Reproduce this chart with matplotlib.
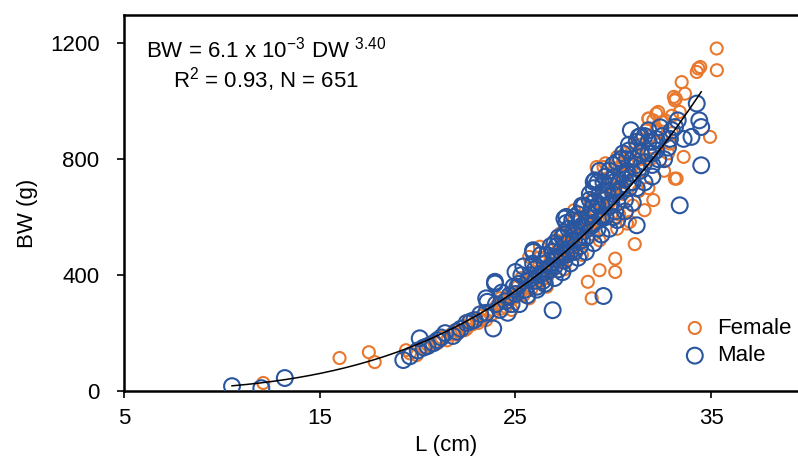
import numpy as np
import matplotlib
matplotlib.use("Agg")
import matplotlib.pyplot as plt

plt.rcParams['font.family'] = ['Liberation Sans', 'DejaVu Sans']
plt.rcParams['mathtext.default'] = 'regular'

# fitted length-weight relation shown on the chart: BW = a * L^b
fit_a = 6.1e-3
fit_b = 3.40
fit_L_range = (10.5, 34.5)

# Female: total length (cm), body weight (g)
female_L = [12.1, 16.0, 17.5, 17.8, 19.4, 19.6, 19.95, 20.3, 20.6, 20.9, 21.2, 21.5, 21.7,
            21.9, 22.1, 22.3, 22.5, 22.6, 22.8, 23.0, 23.1, 23.3, 23.5, 23.6, 23.8, 24.0,
            24.1, 24.3, 24.4, 24.6, 24.7, 24.9, 25.0, 25.1, 25.3, 25.4, 25.5, 25.6, 25.8,
            25.9, 26.0, 26.1, 26.2, 26.3, 26.4, 26.5, 26.6, 26.7, 26.8, 26.9, 27.0, 27.1,
            27.2, 27.3, 27.4, 27.5, 27.6, 27.7, 27.8, 27.9, 28.0, 28.1, 28.2, 28.3, 28.4,
            28.5, 28.6, 28.7, 28.8, 28.9, 29.0, 29.1, 29.2, 29.3, 29.4, 29.5, 29.6, 29.7,
            29.8, 29.9, 30.0, 30.1, 30.1, 30.2, 30.3, 30.4, 30.5, 30.6, 30.7, 30.8, 30.9,
            31.0, 31.1, 31.2, 31.3, 31.4, 31.6, 31.7, 31.8, 32.05, 32.05, 32.3, 32.5, 32.65,
            32.9, 33.1, 33.15, 33.2, 33.24, 33.4, 33.5, 33.6, 33.67, 34.27, 34.35, 34.45,
            34.95, 35.3, 35.29,
            30.2, 31.8, 32.2, 32.56, 29.15, 29.6, 33.15, 30.85, 28.0, 28.3, 29.5, 27.3,
            26.25, 25.7,
            26.3, 27.0, 27.6, 28.2, 28.8, 29.4, 30.0, 30.6, 31.2, 31.9, 29.9, 30.5, 31.5,
            31.9, 32.3, 32.7, 33.0, 24.5, 25.2, 25.8, 26.6, 27.4, 28.0, 28.6, 29.2, 21.0,
            20.5, 22.0, 22.4, 23.2, 23.8,
            24.2, 24.8, 25.3, 25.7, 26.2, 26.6, 27.1, 27.5, 28.0, 28.4, 28.9, 29.3, 29.7,
            30.2, 30.6, 31.0, 31.4, 31.8, 32.2, 32.6, 33.0, 32.8, 31.3, 30.3, 29.0]
female_BW = [28, 114, 134, 100, 141, 130, 124, 150, 165, 170, 185, 175, 195,
             210, 205, 225, 215, 240, 230, 250, 235, 260, 245, 275, 265, 290,
             300, 285, 315, 305, 330, 320, 340, 360, 345, 330, 370, 355, 390,
             375, 410, 395, 430, 380, 420, 445, 405, 435, 460, 415, 470, 440,
             490, 455, 500, 470, 520, 485, 540, 500, 530, 475, 560, 515, 580,
             545, 600, 377, 560, 320, 620, 580, 650, 417, 600, 670, 630, 700,
             650, 740, 680, 457, 411, 720, 770, 700, 790, 740, 578, 760, 820,
             780, 507, 850, 800, 870, 624, 900, 940, 934, 659, 963, 928, 934,
             854, 1015, 1003, 1009, 733, 963, 1066, 808, 1026, 1101, 1113, 1118,
             877, 1107, 1182,
             808, 940, 957, 928, 773, 786, 733, 584, 624, 641, 773, 544,
             498, 463,
             420, 440, 500, 540, 590, 640, 700, 760, 820, 880, 610, 680, 760,
             800, 850, 880, 890, 290, 340, 350, 390, 450, 490, 550, 590, 165,
             160, 195, 210, 245, 280,
             320, 280, 390, 320, 460, 360, 520, 420, 590, 470, 660, 520, 720,
             560, 820, 640, 850, 700, 900, 760, 950, 820, 690, 610, 540]

# Male
male_L = [10.5, 12.0, 13.2, 19.26, 19.6, 20.1, 20.5, 21.0, 21.4, 21.8, 22.2, 22.5, 22.9,
          23.2, 23.56, 23.86, 23.95, 24.2, 24.5, 24.8, 25.0, 25.2, 25.3, 25.5, 25.7, 25.9,
          26.0, 26.1, 26.3, 26.5, 26.6, 26.8, 26.9, 27.0, 27.1, 27.2, 27.3, 27.4, 27.5,
          27.6, 27.7, 27.8, 27.9, 28.0, 28.1, 28.2, 28.3, 28.4, 28.5, 28.6, 28.7, 28.8,
          28.9, 29.0, 29.1, 29.2, 29.3, 29.4, 29.5, 29.5, 29.6, 29.7, 29.8, 29.9, 30.0,
          30.1, 30.2, 30.3, 30.4, 30.5, 30.6, 30.7, 30.8, 30.9, 31.0, 31.2, 31.2, 31.4,
          31.6, 31.8, 32.0, 32.3, 32.5, 32.8, 33.0, 33.16, 33.3, 33.4, 33.6, 34.0, 34.27,
          34.4, 34.5, 34.5,
          29.07, 27.6, 25.9, 31.3, 29.0, 27.5, 23.95, 23.5, 25.0,
          26.2, 26.4, 26.7, 27.0, 27.2, 27.4, 27.6, 27.8, 28.0, 28.2, 28.4, 28.6, 28.8,
          29.0, 29.2, 29.4, 29.6, 29.8, 30.0, 30.2, 30.4, 30.6, 30.8, 31.0, 31.2, 31.4,
          31.6, 31.8, 32.0, 32.2, 28.3, 28.9, 29.5, 30.1, 30.7, 27.5, 26.9, 26.5, 25.8,
          25.1, 24.7, 24.0, 23.5, 22.7, 22.0, 21.2, 20.8, 20.3, 20.0,
          24.3, 24.6, 24.9, 25.2, 25.4, 25.6, 25.9, 26.1, 26.3, 26.5, 26.8, 27.0, 27.2,
          27.4, 27.6, 27.8, 28.0, 28.2, 28.4, 28.6, 28.8, 29.0, 29.2, 29.4, 29.6, 29.8,
          30.0, 30.2, 30.4, 30.6, 30.8, 31.0, 31.2, 31.4, 31.6, 31.8, 32.0, 32.2, 32.4,
          32.6, 32.0, 31.0, 30.0, 29.0, 28.0, 27.0, 26.0, 29.3, 30.9, 32.9]
male_BW = [17, 10, 45, 107, 120, 182, 155, 175, 200, 190, 215, 235, 245,
           265, 308, 216, 371, 280, 310, 300, 335, 370, 400, 350, 385, 480,
           420, 360, 405, 440, 470, 430, 279, 455, 500, 420, 480, 530, 450,
           510, 560, 480, 590, 520, 550, 610, 500, 570, 640, 530, 600, 660,
           570, 700, 620, 560, 680, 640, 328, 720, 600, 690, 760, 650, 720,
           620, 790, 690, 750, 820, 660, 760, 850, 720, 800, 572, 860, 760,
           880, 820, 860, 800, 880, 840, 900, 911, 934, 641, 870, 877, 992,
           934, 911, 779,
           727, 601, 486, 877, 722, 595, 377, 320, 411,
           400, 380, 415, 430, 465, 470, 470, 520, 560, 530, 520, 580, 610,
           580, 640, 600, 660, 640, 680, 650, 700, 730, 700, 750, 780, 820,
           790, 860, 780, 870, 590, 630, 690, 740, 800, 540, 480, 410, 400,
           360, 330, 300, 270, 240, 205, 185, 165, 150, 140,
           340, 270, 360, 300, 430, 330, 440, 350, 470, 370, 500, 390, 530,
           410, 580, 440, 600, 460, 640, 480, 680, 510, 720, 540, 740, 560,
           780, 590, 800, 620, 830, 650, 700, 880, 720, 900, 740, 830, 910,
           800, 820, 720, 600, 650, 480, 510, 380, 760, 900, 870]

female_color = '#E8782E'
male_color = '#2A56A0'

fig = plt.figure(figsize=(7.98, 4.59), dpi=100)
ax = fig.add_axes([0.156, 0.148, 0.844, 0.819])

ax.scatter(female_L, female_BW, s=75, facecolors='none', edgecolors=female_color,
           linewidths=1.5, label='Female', zorder=2)
ax.scatter(male_L, male_BW, s=130, facecolors='none', edgecolors=male_color,
           linewidths=1.5, label='Male', zorder=3)

L_fit = np.linspace(fit_L_range[0], fit_L_range[1], 200)
ax.plot(L_fit, fit_a * L_fit ** fit_b, color='black', lw=1.1, zorder=4)

ax.set_xlim(5, 39.45)
ax.set_ylim(0, 1297)
ax.set_xticks([5, 15, 25, 35])
ax.set_yticks([0, 400, 800, 1200])
ax.tick_params(axis='both', labelsize=16, length=5, width=1.2, direction='out')
ax.tick_params(axis='y', pad=13)
ax.tick_params(axis='x', pad=7)
ax.spines['right'].set_visible(False)
for side in ['left', 'bottom', 'top']:
    ax.spines[side].set_linewidth(1.8)

fig.text(0.034, 0.536, 'BW (g)', rotation=90, ha='center', va='center', fontsize=16)
fig.text(0.559, 0.03, 'L (cm)', ha='center', va='center', fontsize=16)

fig.text(0.333, 0.891, 'BW = 6.1 x 10$^{-3}$ DW $^{3.40}$', ha='center', va='center', fontsize=16)
fig.text(0.333, 0.826, 'R$^{2}$ = 0.93, N = 651', ha='center', va='center', fontsize=16)

ax.legend(loc='lower right', bbox_to_anchor=(1.01, 0.03), frameon=False, fontsize=16,
          handletextpad=0.0, labelspacing=0.3, borderaxespad=0.2)

fig.savefig('out.png', dpi=100)
